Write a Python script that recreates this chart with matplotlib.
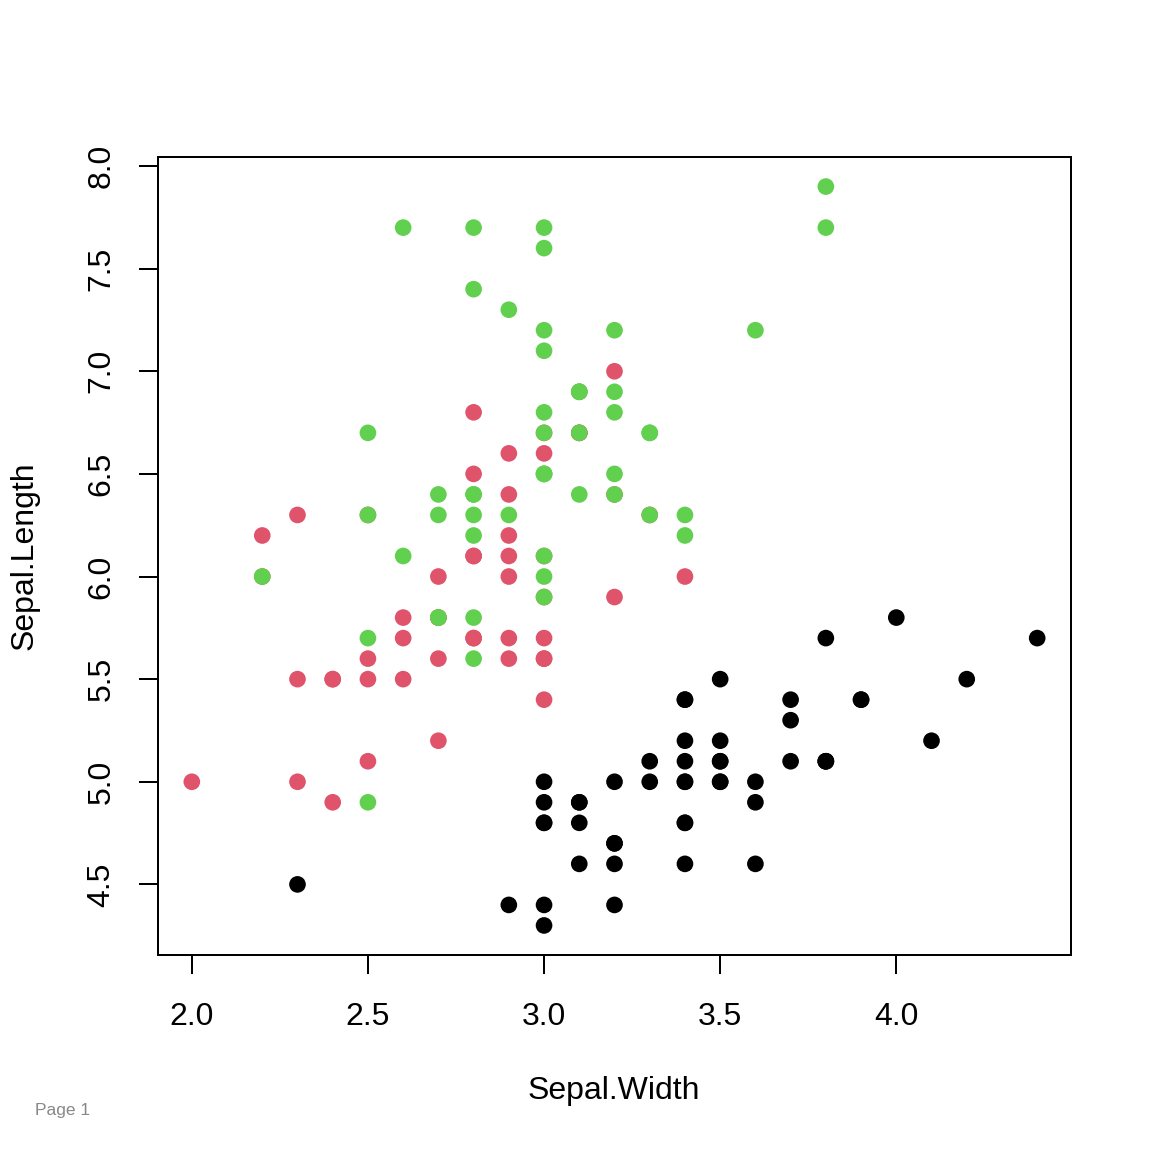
import matplotlib.pyplot as plt
import numpy as np

plt.rcParams['font.family'] = ['Liberation Sans', 'DejaVu Sans']

# iris sepal measurements by species
setosa_len = [5.1, 4.9, 4.7, 4.6, 5.0, 5.4, 4.6, 5.0, 4.4, 4.9, 5.4, 4.8, 4.8, 4.3, 5.8, 5.7, 5.4, 5.1, 5.7, 5.1,
              5.4, 5.1, 4.6, 5.1, 4.8, 5.0, 5.0, 5.2, 5.2, 4.7, 4.8, 5.4, 5.2, 5.5, 4.9, 5.0, 5.5, 4.9, 4.4, 5.1,
              5.0, 4.5, 4.4, 5.0, 5.1, 4.8, 5.1, 4.6, 5.3, 5.0]
setosa_wid = [3.5, 3.0, 3.2, 3.1, 3.6, 3.9, 3.4, 3.4, 2.9, 3.1, 3.7, 3.4, 3.0, 3.0, 4.0, 4.4, 3.9, 3.5, 3.8, 3.8,
              3.4, 3.7, 3.6, 3.3, 3.4, 3.0, 3.4, 3.5, 3.4, 3.2, 3.1, 3.4, 4.1, 4.2, 3.1, 3.2, 3.5, 3.6, 3.0, 3.4,
              3.5, 2.3, 3.2, 3.5, 3.8, 3.0, 3.8, 3.2, 3.7, 3.3]
versicolor_len = [7.0, 6.4, 6.9, 5.5, 6.5, 5.7, 6.3, 4.9, 6.6, 5.2, 5.0, 5.9, 6.0, 6.1, 5.6, 6.7, 5.6, 5.8, 6.2, 5.6,
                  5.9, 6.1, 6.3, 6.1, 6.4, 6.6, 6.8, 6.7, 6.0, 5.7, 5.5, 5.5, 5.8, 6.0, 5.4, 6.0, 6.7, 6.3, 5.6, 5.5,
                  5.5, 6.1, 5.8, 5.0, 5.6, 5.7, 5.7, 6.2, 5.1, 5.7]
versicolor_wid = [3.2, 3.2, 3.1, 2.3, 2.8, 2.8, 3.3, 2.4, 2.9, 2.7, 2.0, 3.0, 2.2, 2.9, 2.9, 3.1, 3.0, 2.7, 2.2, 2.5,
                  3.2, 2.8, 2.5, 2.8, 2.9, 3.0, 2.8, 3.0, 2.9, 2.6, 2.4, 2.4, 2.7, 2.7, 3.0, 3.4, 3.1, 2.3, 3.0, 2.5,
                  2.6, 3.0, 2.6, 2.3, 2.7, 3.0, 2.9, 2.9, 2.5, 2.8]
virginica_len = [6.3, 5.8, 7.1, 6.3, 6.5, 7.6, 4.9, 7.3, 6.7, 7.2, 6.5, 6.4, 6.8, 5.7, 5.8, 6.4, 6.5, 7.7, 7.7, 6.0,
                 6.9, 5.6, 7.7, 6.3, 6.7, 7.2, 6.2, 6.1, 6.4, 7.2, 7.4, 7.9, 6.4, 6.3, 6.1, 7.7, 6.3, 6.4, 6.0, 6.9,
                 6.7, 6.9, 5.8, 6.8, 6.7, 6.7, 6.3, 6.5, 6.2, 5.9]
virginica_wid = [3.3, 2.7, 3.0, 2.9, 3.0, 3.0, 2.5, 2.9, 2.5, 3.6, 3.2, 2.7, 3.0, 2.5, 2.8, 3.2, 3.0, 3.8, 2.6, 2.2,
                 3.2, 2.8, 2.8, 2.7, 3.3, 3.2, 2.8, 3.0, 2.8, 3.0, 2.8, 3.8, 2.8, 2.8, 2.6, 3.0, 3.4, 3.1, 3.0, 3.1,
                 3.1, 3.1, 2.7, 3.2, 3.3, 3.0, 2.5, 3.0, 3.4, 3.0]

xticks = [2.0, 2.5, 3.0, 3.5, 4.0]
yticks = [4.5, 5.0, 5.5, 6.0, 6.5, 7.0, 7.5, 8.0]

fig = plt.figure(figsize=(6, 6), dpi=192)
ax = fig.add_axes([158/1152, 1 - 955/1152, (1071 - 158)/1152, (955 - 157)/1152])

groups = [(setosa_wid, setosa_len, 'black'),
          (versicolor_wid, versicolor_len, '#DF536B'),
          (virginica_wid, virginica_len, '#61D04F')]
for w, l, c in groups:
    ax.scatter(w, l, s=39, color=c, edgecolors='none', zorder=3)

# R style axis ranges (4% padding)
allw = np.concatenate([setosa_wid, versicolor_wid, virginica_wid])
alll = np.concatenate([setosa_len, versicolor_len, virginica_len])
pw = (allw.max() - allw.min()) * 0.04
pl = (alll.max() - alll.min()) * 0.04
ax.set_xlim(allw.min() - pw, allw.max() + pw)
ax.set_ylim(alll.min() - pl, alll.max() + pl)

for s in ax.spines.values():
    s.set_linewidth(0.75)

ax.set_xticks(xticks)
ax.set_xticklabels(['%.1f' % v for v in xticks])
ax.set_yticks(yticks)
ax.set_yticklabels(['%.1f' % v for v in yticks], rotation=90, va='center')
ax.tick_params(direction='out', length=7.1, width=0.75, labelsize=12)
ax.tick_params(axis='x', pad=10.5)
ax.tick_params(axis='y', pad=8.5)

fig.text(614 / 1152, 1 - 1091 / 1152, 'Sepal.Width', ha='center', va='center', fontsize=12)
fig.text(25 / 1152, 1 - 556 / 1152, 'Sepal.Length', ha='center', va='center', rotation=90, fontsize=12)
fig.text(35 / 1152, 1 - 1111 / 1152, 'Page 1', ha='left', va='center', fontsize=6.5, color='#888888')

fig.savefig('out.png', dpi=192)
